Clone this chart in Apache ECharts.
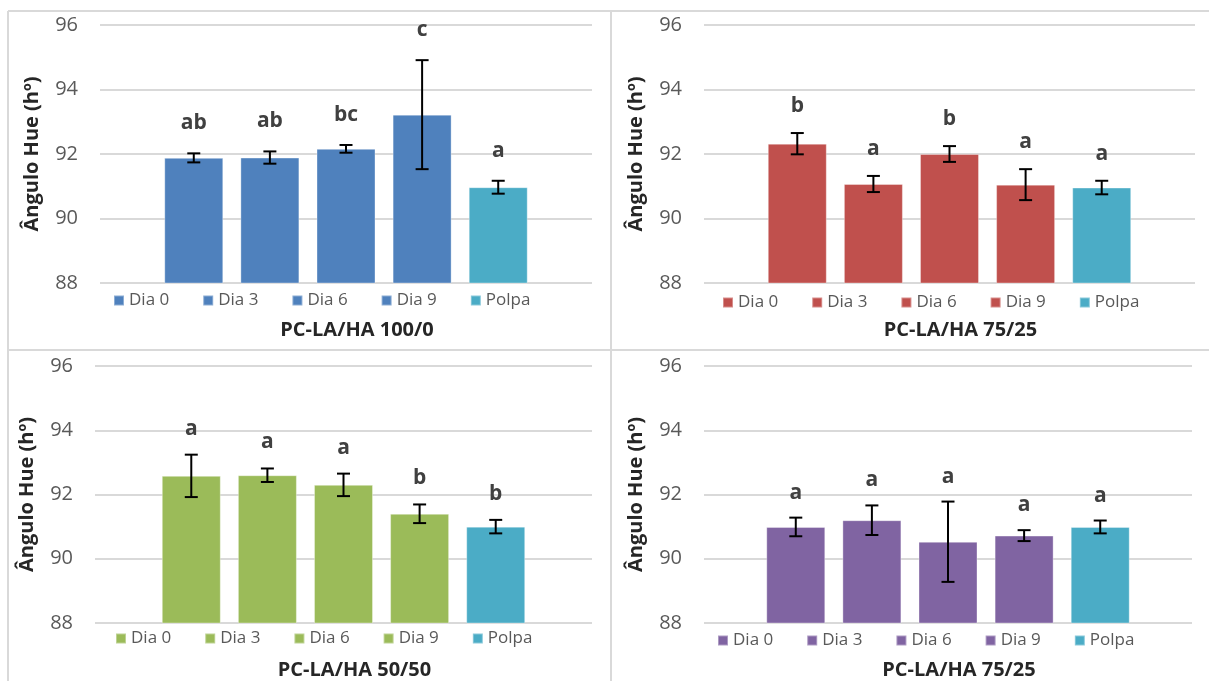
<!DOCTYPE html>
<html>
<head>
<meta charset="utf-8">
<title>Ângulo Hue</title>
<script src="https://cdn.jsdelivr.net/npm/echarts@6/dist/echarts.min.js"></script>
<style>
  html, body { margin: 0; padding: 0; background: #ffffff; }
  #chart { width: 1209px; height: 681px; }
</style>
</head>
<body>
<div id="chart"></div>
<script>
// Series (legend) names shared by the four panels
const seriesNames = ['Dia 0', 'Dia 3', 'Dia 6', 'Dia 9', 'Polpa'];

// Panel titles (x-axis titles)
const panelTitles = ['PC-LA/HA 100/0', 'PC-LA/HA 75/25', 'PC-LA/HA 50/50', 'PC-LA/HA 75/25'];

// Y-axis ticks
const yMin = 88;
const yMax = 96;
const yStep = 2;

// Mean hue angle (hº) and standard deviation per panel, order as seriesNames
const hue100_0 = [91.88, 91.89, 92.16, 93.22, 90.97];
const sd100_0  = [0.14, 0.19, 0.12, 1.69, 0.20];
const sig100_0 = ['ab', 'ab', 'bc', 'c', 'a'];

const hue75_25a = [92.32, 91.07, 92.00, 91.05, 90.96];
const sd75_25a  = [0.33, 0.25, 0.245, 0.48, 0.21];
const sig75_25a = ['b', 'a', 'b', 'a', 'a'];

const hue50_50 = [92.58, 92.60, 92.30, 91.40, 91.00];
const sd50_50  = [0.66, 0.21, 0.35, 0.29, 0.21];
const sig50_50 = ['a', 'a', 'a', 'b', 'b'];

const hue75_25b = [90.99, 91.20, 90.53, 90.72, 90.99];
const sd75_25b  = [0.29, 0.46, 1.25, 0.17, 0.20];
const sig75_25b = ['a', 'a', 'a', 'a', 'a'];

const panelMeans = [hue100_0, hue75_25a, hue50_50, hue75_25b];
const panelSd = [sd100_0, sd75_25a, sd50_50, sd75_25b];
const panelLetters = [sig100_0, sig75_25a, sig50_50, sig75_25b];

// Styling
const panelColors = ['#4F81BD', '#C0504D', '#9BBB59', '#8064A2'];
const polpaColor = '#4BACC6';
const FONT = "'Open Sans', 'Noto Sans', sans-serif";
const BAR_W = 59;
const BAR_GAP = 0.29;
const PITCH = BAR_W * (1 + BAR_GAP);
const CAP = 6.5;

const layout = [
  { grid: { left: 100, top: 25, width: 492, height: 258 }, legend: { left: 113, top: 292 }, lift: 30 },
  { grid: { left: 704, top: 25, width: 491, height: 258 }, legend: { left: 722, top: 294 }, lift: 27 },
  { grid: { left: 95, top: 366, width: 497, height: 257 }, legend: { left: 115, top: 630 }, lift: 26 },
  { grid: { left: 704, top: 366, width: 488, height: 257 }, legend: { left: 717, top: 632 }, lift: 25 }
];

function colorOf(p, i) {
  return i === seriesNames.length - 1 ? polpaColor : panelColors[p];
}

const grids = [], xAxes = [], yAxes = [], legends = [], series = [];

layout.forEach(function (L, p) {
  grids.push(Object.assign({ containLabel: false }, L.grid));

  xAxes.push({
    type: 'category',
    gridIndex: p,
    data: [''],
    axisLine: { show: false },
    axisTick: { show: false },
    axisLabel: { show: false },
    name: panelTitles[p],
    nameLocation: 'middle',
    nameGap: 37,
    nameTextStyle: {
      fontFamily: FONT, fontSize: 20, fontWeight: 'bold', color: '#262626',
      padding: [0, 0, 0, 22]
    }
  });

  yAxes.push({
    type: 'value',
    gridIndex: p,
    min: yMin,
    max: yMax,
    interval: yStep,
    axisLine: { show: false },
    axisTick: { show: false },
    axisLabel: { fontFamily: FONT, fontSize: 20, color: '#595959', margin: 22 },
    splitLine: { lineStyle: { color: '#D9D9D9', width: 2 } },
    name: 'Ângulo Hue (hº)',
    nameLocation: 'middle',
    nameRotate: 90,
    nameGap: 58,
    nameTextStyle: { fontFamily: FONT, fontSize: 20, fontWeight: 'bold', color: '#262626' }
  });

  legends.push({
    left: L.legend.left,
    top: L.legend.top,
    orient: 'horizontal',
    padding: 0,
    icon: 'rect',
    itemWidth: 10,
    itemHeight: 10,
    itemGap: 33,
    itemTextGap: 5,
    selectedMode: false,
    textStyle: { fontFamily: FONT, fontSize: 17, color: '#595959' },
    data: seriesNames.map(function (n, i) {
      return { name: n, itemStyle: { color: colorOf(p, i) } };
    })
  });

  seriesNames.forEach(function (n, i) {
    series.push({
      type: 'bar',
      name: n,
      xAxisIndex: p,
      yAxisIndex: p,
      barWidth: BAR_W,
      barGap: (BAR_GAP * 100) + '%',
      itemStyle: { color: colorOf(p, i), borderColor: 'rgba(255,255,255,0.35)', borderWidth: 1 },
      data: [panelMeans[p][i]]
    });
  });

  // Error bars (± SD) and significance letters
  const letters = panelLetters[p];
  const lift = L.lift;
  series.push({
    type: 'custom',
    xAxisIndex: p,
    yAxisIndex: p,
    z: 5,
    silent: true,
    encode: { x: 0, y: 1 },
    data: panelMeans[p].map(function (m, i) { return [0, m, panelSd[p][i], i]; }),
    renderItem: function (params, api) {
      const mean = api.value(1);
      const sd = api.value(2);
      const i = api.value(3);
      const c = api.coord([0, mean]);
      const x = c[0] + (i - 2) * PITCH;
      const yTop = api.coord([0, mean + sd])[1];
      const yBot = api.coord([0, mean - sd])[1];
      const ls = { stroke: '#000000', lineWidth: 2 };
      return {
        type: 'group',
        children: [
          { type: 'line', shape: { x1: x, y1: yTop, x2: x, y2: yBot }, style: ls },
          { type: 'line', shape: { x1: x - CAP, y1: yTop, x2: x + CAP, y2: yTop }, style: ls },
          { type: 'line', shape: { x1: x - CAP, y1: yBot, x2: x + CAP, y2: yBot }, style: ls },
          {
            type: 'text',
            x: x,
            y: yTop - lift,
            style: {
              text: letters[i],
              align: 'center',
              verticalAlign: 'middle',
              fontFamily: FONT,
              fontSize: 21,
              fontWeight: 'bold',
              fill: '#404040'
            }
          }
        ]
      };
    }
  });
});

// Panel frame lines
const frameStyle = { stroke: '#D9D9D9', lineWidth: 2 };
const frame = [
  { type: 'line', shape: { x1: 8, y1: 11, x2: 1209, y2: 11 }, style: frameStyle },
  { type: 'line', shape: { x1: 8, y1: 350, x2: 1209, y2: 350 }, style: frameStyle },
  { type: 'line', shape: { x1: 8, y1: 11, x2: 8, y2: 681 }, style: frameStyle },
  { type: 'line', shape: { x1: 611, y1: 11, x2: 611, y2: 681 }, style: frameStyle }
];

const chart = echarts.init(document.getElementById('chart'), null, { renderer: 'canvas' });
chart.setOption({
  backgroundColor: '#ffffff',
  animation: false,
  grid: grids,
  xAxis: xAxes,
  yAxis: yAxes,
  legend: legends,
  series: series,
  graphic: { elements: frame }
});
</script>
</body>
</html>
